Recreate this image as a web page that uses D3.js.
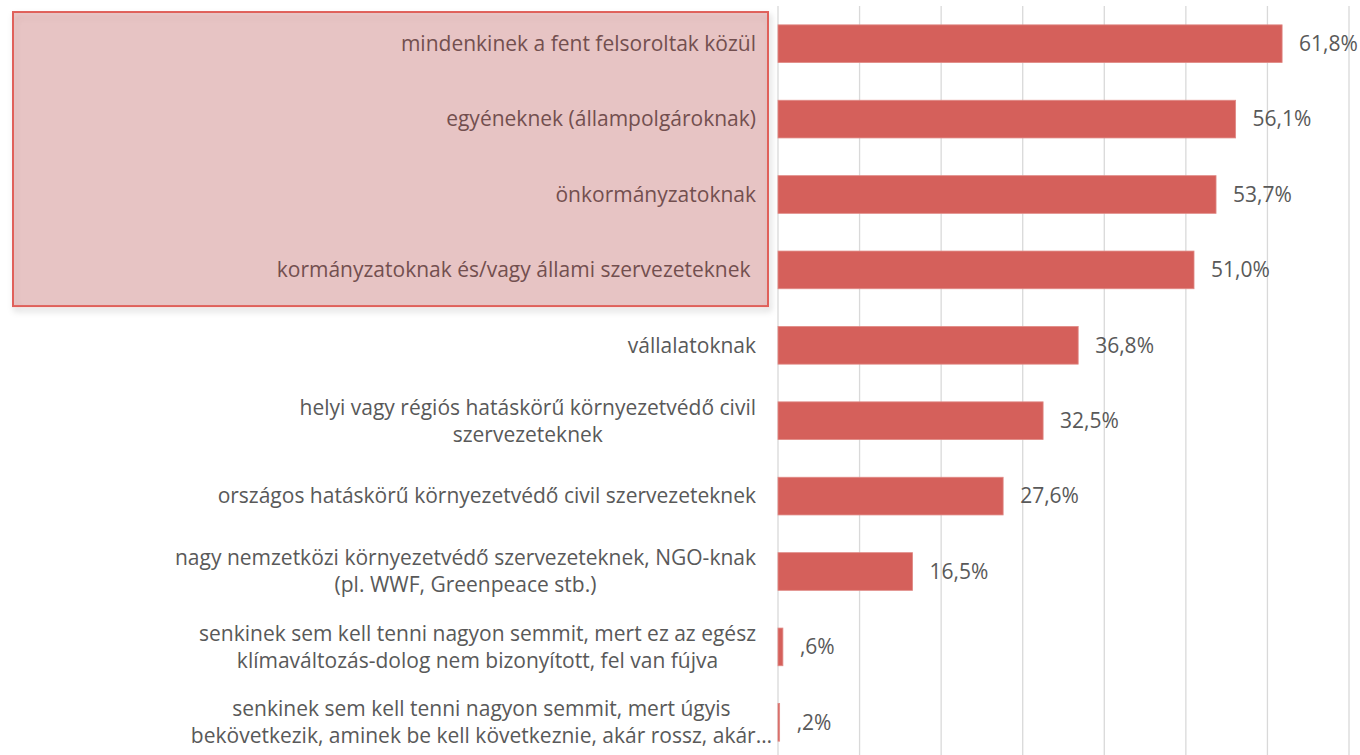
<!DOCTYPE html>
<html>
<head>
<meta charset="utf-8">
<script src="https://cdn.jsdelivr.net/npm/d3@7"></script>
<style>
  body { margin: 0; background: #fff; }
  svg { display: block; }
</style>
</head>
<body>
<div id="chart"></div>
<script>
// kinek kell tennie a klímaváltozás ellen - horizontal bars

const categories = [
  ["mindenkinek a fent felsoroltak közül"],
  ["egyéneknek (állampolgároknak)"],
  ["önkormányzatoknak"],
  ["kormányzatoknak és/vagy állami szervezeteknek "],
  ["vállalatoknak"],
  ["helyi vagy régiós hatáskörű környezetvédő civil", "szervezeteknek"],
  ["országos hatáskörű környezetvédő civil szervezeteknek"],
  ["nagy nemzetközi környezetvédő szervezeteknek, NGO-knak", "(pl. WWF, Greenpeace stb.)"],
  ["senkinek sem kell tenni nagyon semmit, mert ez az egész", "klímaváltozás-dolog nem bizonyított, fel van fújva"],
  ["senkinek sem kell tenni nagyon semmit, mert úgyis", "bekövetkezik, aminek be kell következnie, akár rossz, akár…"]
];
const values = [61.8, 56.1, 53.7, 51.0, 36.8, 32.5, 27.6, 16.5, 0.6, 0.2];
const valueLabels = ["61,8%", "56,1%", "53,7%", "51,0%", "36,8%", "32,5%", "27,6%", "16,5%", ",6%", ",2%"];
const gridTicks = [0, 10, 20, 30, 40, 50, 60, 70];
const highlighted = [0, 1, 2, 3]; // rows inside the pink box

const width = 1360, height = 755;
const margin = {top: 6, right: 11, bottom: -5, left: 778};
const fontSize = 21;

const svg = d3.select("#chart").append("svg")
  .attr("width", width)
  .attr("height", height)
  .style("font-family", "'Open Sans', sans-serif");

const x = d3.scaleLinear()
  .domain([0, 70])
  .range([margin.left, width - margin.right]);

const y = d3.scaleBand()
  .domain(d3.range(categories.length))
  .range([margin.top, height - margin.bottom])
  .paddingInner(0.5)
  .paddingOuter(0.25);

// vertical gridlines
svg.append("g")
  .selectAll("line")
  .data(gridTicks)
  .join("line")
  .attr("x1", d => x(d))
  .attr("x2", d => x(d))
  .attr("y1", margin.top)
  .attr("y2", height)
  .attr("stroke", "#d9d9d9")
  .attr("stroke-width", 1.3);

// bars
svg.append("g")
  .selectAll("rect")
  .data(values)
  .join("rect")
  .attr("x", x(0))
  .attr("y", (d, i) => y(i))
  .attr("width", d => x(d) - x(0))
  .attr("height", y.bandwidth())
  .attr("fill", "#d5605b")
  .attr("stroke", "#e08a86")
  .attr("stroke-width", 0.8);

// value labels
svg.append("g")
  .attr("font-size", fontSize)
  .attr("fill", "#595959")
  .selectAll("text")
  .data(values)
  .join("text")
  .attr("x", d => x(d) + 17)
  .attr("y", (d, i) => y(i) + y.bandwidth() / 2)
  .attr("dy", "0.35em")
  .text((d, i) => valueLabels[i]);

// category labels (wrapped ones are centered, like excel does)
const labels = svg.append("g")
  .attr("font-size", fontSize)
  .attr("fill", "#595959")
  .selectAll("text")
  .data(categories)
  .join("text")
  .attr("y", (d, i) => y(i) + y.bandwidth() / 2);

labels.each(function(lines, i) {
  const t = d3.select(this);
  const lh = 27;
  const y0 = -(lines.length - 1) * lh / 2;
  lines.forEach((ln, j) => {
    t.append("tspan")
      .attr("y", y(i) + y.bandwidth() / 2 + y0 + j * lh)
      .attr("dy", "0.35em")
      .text(ln);
  });
  if (lines.length === 1) {
    t.attr("text-anchor", "end").attr("xml:space", "preserve")
      .selectAll("tspan").attr("x", margin.left - 22);
  } else {
    // measure widest line and center on it
    const w = d3.max(t.selectAll("tspan").nodes(), n => n.getComputedTextLength());
    // truncated label (…) spills a bit past the label edge in the original
    const spill = lines.some(l => l.endsWith("…")) ? 16 : 0;
    const cx = margin.left - 22 + spill - w / 2;
    t.attr("text-anchor", "middle").selectAll("tspan").attr("x", cx);
  }
});

// highlight box over the top four labels
const defs = svg.append("defs");
const f = defs.append("filter").attr("id", "shadow")
  .attr("x", "-5%").attr("y", "-5%").attr("width", "115%").attr("height", "120%");
f.append("feDropShadow")
  .attr("dx", 2).attr("dy", 4).attr("stdDeviation", 3)
  .attr("flood-color", "#000").attr("flood-opacity", 0.2);

const step = y.step();
const boxTop = y(highlighted[0]) - step * 0.17;
const boxBottom = y(highlighted[highlighted.length - 1]) + y.bandwidth() + step * 0.23;

svg.append("rect")
  .attr("x", 13)
  .attr("y", boxTop)
  .attr("width", margin.left - 10 - 13)
  .attr("height", boxBottom - boxTop)
  .attr("fill", "rgba(185, 62, 60, 0.26)")
  .attr("stroke", "#e0605a")
  .attr("stroke-width", 2)
  .attr("filter", "url(#shadow)");
</script>
</body>
</html>
